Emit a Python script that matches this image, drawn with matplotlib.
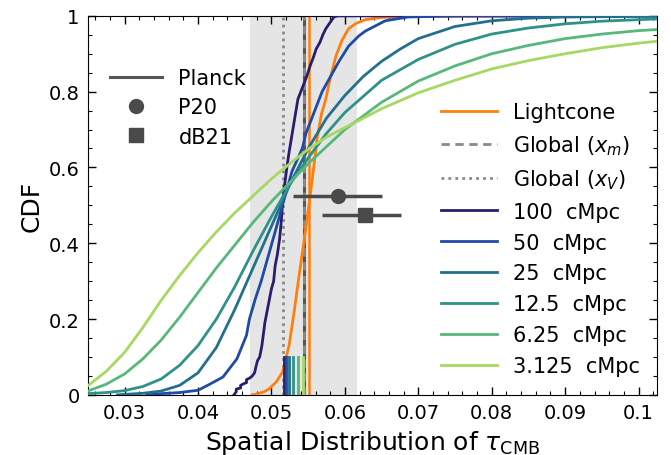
import matplotlib
matplotlib.use("Agg")
import matplotlib.pyplot as plt
from matplotlib.ticker import MultipleLocator, FuncFormatter
from matplotlib.lines import Line2D

# ---------------- data ----------------
planck_tau = 0.0544
planck_lo = 0.0471
planck_hi = 0.0617
global_xm = 0.0545
global_xv = 0.0516
lightcone_tau = 0.0551

p20_tau, p20_y, p20_err = 0.059, 0.525, 0.006
db21_tau, db21_y, db21_err_lo, db21_err_hi = 0.0627, 0.475, 0.0058, 0.0050

labels = ["100  cMpc", "50  cMpc", "25  cMpc", "12.5  cMpc", "6.25  cMpc", "3.125  cMpc"]
colors = ["#2b1d6e", "#1f4aa6", "#22708e", "#2e9288", "#58b77a", "#a6d862"]
mean_tau = [0.05166, 0.05198, 0.05234, 0.05288, 0.05355, 0.05436]

lc_x = [0.0474, 0.048, 0.049, 0.0497, 0.0507, 0.0515, 0.0524, 0.0531, 0.0537, 0.0544,
        0.0551, 0.0557, 0.0562, 0.0568, 0.0574, 0.058, 0.0588, 0.0596, 0.0605, 0.0615,
        0.0628, 0.065, 0.07, 0.0975]
lc_y = [0.0, 0.002, 0.008, 0.016, 0.035, 0.06, 0.13, 0.22, 0.306, 0.40,
        0.5, 0.59, 0.675, 0.74, 0.78, 0.835, 0.895, 0.935, 0.966, 0.98,
        0.99, 0.996, 0.999, 1.0]

x100 = [0.0449, 0.0452, 0.0452, 0.0458, 0.0458, 0.0463, 0.0466, 0.0466, 0.0471, 0.0474,
        0.0477, 0.0479, 0.0481, 0.0484, 0.0487, 0.0489, 0.0491, 0.0494, 0.0497, 0.0500,
        0.0503, 0.0505, 0.0508, 0.0511, 0.0513, 0.0515, 0.0517, 0.0519, 0.0521, 0.0524,
        0.0527, 0.0530, 0.0533, 0.0536, 0.0540, 0.0544, 0.0548, 0.0553, 0.0557, 0.0561,
        0.0566, 0.0570, 0.0574, 0.0579, 0.0585, 0.0590, 0.1025]
y100 = [0.0, 0.008, 0.015, 0.018, 0.025, 0.03, 0.032, 0.04, 0.045, 0.05,
        0.058, 0.075, 0.09, 0.10, 0.13, 0.16, 0.19, 0.22, 0.25, 0.28,
        0.30, 0.34, 0.37, 0.41, 0.45, 0.50, 0.54, 0.57, 0.60, 0.64,
        0.675, 0.71, 0.745, 0.78, 0.80, 0.82, 0.84, 0.87, 0.89, 0.913,
        0.93, 0.95, 0.966, 0.98, 0.997, 1.0, 1.0]

x50 = [0.033, 0.035, 0.0375, 0.04, 0.0416, 0.0434, 0.0453, 0.0466, 0.047, 0.0478,
       0.0486, 0.0505, 0.0515, 0.0528, 0.0542, 0.0547, 0.0569, 0.0592, 0.0605, 0.0619,
       0.0628, 0.0655, 0.0686, 0.075, 0.1025]
y50 = [0.0, 0.003, 0.006, 0.012, 0.028, 0.047, 0.095, 0.157, 0.2, 0.253,
       0.30, 0.43, 0.5, 0.59, 0.65, 0.69, 0.80, 0.88, 0.92, 0.947,
       0.96, 0.987, 0.997, 1.0, 1.0]

x25 = [0.029, 0.0325, 0.035, 0.0375, 0.04, 0.0425, 0.045, 0.0475, 0.05, 0.0525,
       0.055, 0.0575, 0.06, 0.0625, 0.065, 0.0675, 0.07, 0.075, 0.08, 0.085,
       0.09, 0.1025]
y25 = [0.0, 0.004, 0.01, 0.025, 0.058, 0.125, 0.225, 0.335, 0.445, 0.555,
       0.65, 0.73, 0.79, 0.84, 0.88, 0.912, 0.94, 0.972, 0.987, 0.994,
       0.997, 0.999]

x_grid = [0.025, 0.0275, 0.03, 0.0325, 0.035, 0.0375, 0.04, 0.0425, 0.045, 0.0475,
          0.05, 0.0525, 0.055, 0.0575, 0.06, 0.065, 0.07, 0.075, 0.08, 0.085,
          0.09, 0.095, 0.1, 0.1025]
y12 = [0.003, 0.006, 0.011, 0.022, 0.042, 0.078, 0.13, 0.2, 0.285, 0.38,
       0.47, 0.555, 0.625, 0.69, 0.745, 0.83, 0.885, 0.925, 0.952, 0.968,
       0.979, 0.986, 0.99, 0.992]
y6 = [0.01, 0.028, 0.055, 0.095, 0.145, 0.205, 0.27, 0.335, 0.395, 0.455,
      0.51, 0.56, 0.61, 0.655, 0.70, 0.772, 0.828, 0.868, 0.90, 0.922,
      0.94, 0.952, 0.961, 0.964]
y3 = [0.024, 0.062, 0.112, 0.178, 0.25, 0.315, 0.375, 0.43, 0.48, 0.525,
      0.57, 0.61, 0.648, 0.68, 0.705, 0.755, 0.797, 0.83, 0.86, 0.882,
      0.90, 0.916, 0.928, 0.933]

xticks = [0.03, 0.04, 0.05, 0.06, 0.07, 0.08, 0.09, 0.1]
yticks = [0, 0.2, 0.4, 0.6, 0.8, 1.0]

# ---------------- plot ----------------
fig = plt.figure(figsize=(6.71, 4.56), dpi=100)
ax = fig.add_axes([0.131, 0.132, 0.848, 0.831])

gray_dark = "#555555"
gray_mid = "#8a8a8a"
pt_col = "#4a4a4a"

ax.axvspan(planck_lo, planck_hi, color="#e5e5e5", zorder=0, lw=0)
ax.axvline(planck_tau, color=gray_dark, lw=2.2, zorder=1)
ax.axvline(global_xm, color=gray_mid, lw=2, ls=(0, (3, 2)), zorder=1.1)
ax.axvline(global_xv, color=gray_mid, lw=2, ls=(0, (1, 1.5)), zorder=1.1)

orange = "#ff7f0e"
ax.axvline(lightcone_tau, color=orange, lw=1.8, zorder=2)
ax.plot(lc_x, lc_y, color=orange, lw=2, zorder=3)

series_x = [x100, x50, x25, x_grid, x_grid, x_grid]
series_y = [y100, y50, y25, y12, y6, y3]
for xs, ys, c in zip(series_x, series_y, colors):
    ax.plot(xs, ys, color=c, lw=2, zorder=3)
for m, c in zip(mean_tau, colors):
    ax.axvline(m, ymin=0, ymax=0.1, color=c, lw=2, zorder=3)

ax.errorbar([p20_tau], [p20_y], xerr=[[p20_err], [p20_err]], fmt="o", color=pt_col,
            ms=10, elinewidth=2.5, capsize=0, zorder=5)
ax.errorbar([db21_tau], [db21_y], xerr=[[db21_err_lo], [db21_err_hi]], fmt="s", color=pt_col,
            ms=10, elinewidth=2.5, capsize=0, zorder=5)

ax.set_xlim(0.025, 0.1025)
ax.set_ylim(0, 1)
ax.set_xticks(xticks)
ax.set_yticks(yticks)
fmt = FuncFormatter(lambda v, p: "%g" % round(v, 4))
ax.xaxis.set_major_formatter(fmt)
ax.yaxis.set_major_formatter(fmt)
ax.xaxis.set_minor_locator(MultipleLocator(0.002))
ax.yaxis.set_minor_locator(MultipleLocator(0.05))
ax.tick_params(which="both", direction="in", top=True, right=True, labelsize=14, pad=6)
ax.tick_params(which="major", length=6, width=1)
ax.tick_params(which="minor", length=3, width=0.8)

ax.set_xlabel(r"Spatial Distribution of $\tau_{\rm CMB}$", fontsize=18)
ax.set_ylabel("CDF", fontsize=18)

# legends
h1 = [Line2D([], [], color=gray_dark, lw=2.2),
      Line2D([], [], color=pt_col, marker="o", ms=10, ls="none"),
      Line2D([], [], color=pt_col, marker="s", ms=10, ls="none")]
leg1 = ax.legend(h1, ["Planck", "P20", "dB21"], loc="upper left",
                 bbox_to_anchor=(0.02, 0.89), frameon=False, fontsize=15,
                 handlelength=2.5, handletextpad=0.8, labelspacing=0.45, borderpad=0)
ax.add_artist(leg1)

h2 = [Line2D([], [], color=orange, lw=2),
      Line2D([], [], color=gray_mid, lw=2, ls=(0, (3, 2))),
      Line2D([], [], color=gray_mid, lw=2, ls=(0, (1, 1.5)))]
h2 += [Line2D([], [], color=c, lw=2) for c in colors]
l2 = ["Lightcone", r"Global ($x_m$)", r"Global ($x_V$)"] + labels
ax.legend(h2, l2, loc="upper left", bbox_to_anchor=(0.603, 0.80), frameon=False,
          fontsize=15, handlelength=2.65, handletextpad=0.8, labelspacing=0.52, borderpad=0)

fig.savefig("out.png", dpi=100)
